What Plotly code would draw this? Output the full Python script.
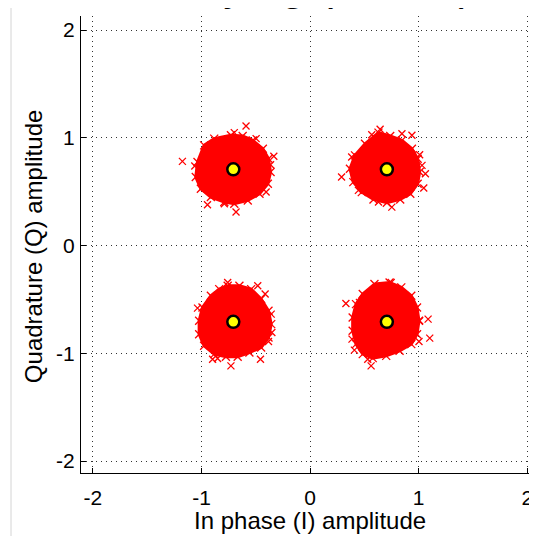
import plotly.graph_objects as go

# Ideal QPSK constellation points
ideal_i = [-0.7071, 0.7071, -0.7071, 0.7071]
ideal_q = [0.7071, 0.7071, -0.7071, -0.7071]

# Dense received-sample clouds: outlines
cloud_tl_i = [-0.729, -0.621, -0.528, -0.435, -0.383, -0.364, -0.389, -0.466, -0.574, -0.698, -0.790, -0.914, -1.006, -1.053, -1.037, -0.976, -0.883]
cloud_tl_q = [1.023, 1.017, 0.976, 0.899, 0.806, 0.682, 0.574, 0.481, 0.419, 0.388, 0.404, 0.450, 0.527, 0.636, 0.775, 0.930, 0.992]

cloud_tr_i = [0.630, 0.738, 0.846, 0.938, 0.991, 1.009, 0.991, 0.923, 0.830, 0.707, 0.584, 0.476, 0.398, 0.367, 0.414, 0.506]
cloud_tr_q = [1.048, 1.017, 0.976, 0.899, 0.806, 0.682, 0.574, 0.481, 0.428, 0.397, 0.428, 0.496, 0.589, 0.713, 0.837, 0.945]

cloud_bl_i = [-0.759, -0.651, -0.543, -0.451, -0.383, -0.358, -0.383, -0.451, -0.559, -0.667, -0.775, -0.883, -0.976, -1.022, -1.022, -0.991, -0.914, -0.837]
cloud_bl_q = [-0.373, -0.373, -0.404, -0.496, -0.605, -0.729, -0.853, -0.945, -0.992, -1.032, -1.032, -1.007, -0.930, -0.822, -0.698, -0.574, -0.466, -0.404]

cloud_br_i = [0.593, 0.732, 0.840, 0.932, 0.985, 1.003, 0.985, 0.932, 0.824, 0.701, 0.577, 0.485, 0.423, 0.392, 0.392, 0.423, 0.485]
cloud_br_q = [-0.357, -0.342, -0.388, -0.466, -0.574, -0.698, -0.822, -0.914, -0.976, -1.023, -1.044, -1.007, -0.914, -0.791, -0.667, -0.543, -0.450]

# Stray received samples (outliers)
stray_tl_i = [-0.590, -1.176, -1.062, -0.334, -0.364, -0.945, -0.682, -1.006, -0.698, -0.497, -0.405, -0.790]
stray_tl_q = [1.109, 0.781, 0.738, 0.828, 0.750, 0.379, 0.311, 0.589, 1.048, 0.992, 0.497, 0.388]

stray_tr_i = [0.645, 0.568, 0.846, 0.938, 0.290, 0.383, 0.445, 1.062, 1.047, 0.753, 0.630, 1.009, 1.031]
stray_tr_q = [1.079, 1.029, 1.038, 1.023, 0.636, 0.822, 0.512, 0.667, 0.534, 0.357, 0.404, 0.843, 0.744]

stray_bl_i = [-0.759, -0.482, -0.414, -1.037, -0.352, -0.383, -0.457, -0.729, -0.898, -0.852, -0.358]
stray_bl_q = [-0.342, -0.373, -0.450, -0.580, -0.806, -0.890, -1.054, -1.116, -1.054, -1.047, -0.636]

stray_br_i = [0.330, 0.454, 1.087, 1.102, 1.003, 0.408, 0.386, 0.562, 0.531, 1.009, 0.747]
stray_br_q = [-0.537, -0.527, -0.682, -0.859, -0.890, -0.970, -0.868, -1.116, -1.054, -0.698, -0.343]

tick_vals = [-2, -1, 0, 1, 2]
tick_text = ["-2", "-1", "0", "1", "2"]

RED = "#ff0000"
FONT = "Liberation Sans, Arial, sans-serif"
fig = go.Figure()

clouds = [(cloud_tl_i, cloud_tl_q), (cloud_tr_i, cloud_tr_q),
          (cloud_bl_i, cloud_bl_q), (cloud_br_i, cloud_br_q)]
for ci, cq in clouds:
    fig.add_trace(go.Scatter(x=ci + ci[:1], y=cq + cq[:1], mode="lines",
                             fill="toself", fillcolor=RED,
                             line=dict(color=RED, width=3),
                             hoverinfo="skip", showlegend=False))
    fig.add_trace(go.Scatter(x=ci, y=cq, mode="markers",
                             marker=dict(symbol="x-thin", size=8,
                                         line=dict(color=RED, width=1.3)),
                             showlegend=False))

strays = [(stray_tl_i, stray_tl_q), (stray_tr_i, stray_tr_q),
          (stray_bl_i, stray_bl_q), (stray_br_i, stray_br_q)]
for si, sq in strays:
    fig.add_trace(go.Scatter(x=si, y=sq, mode="markers",
                             marker=dict(symbol="x-thin", size=7,
                                         line=dict(color=RED, width=1.3)),
                             showlegend=False))

fig.add_trace(go.Scatter(x=ideal_i, y=ideal_q, mode="markers",
                         marker=dict(symbol="circle", size=12, color="#ffff00",
                                     line=dict(color="black", width=2.5)),
                         showlegend=False))

axis_common = dict(
    tickvals=tick_vals, ticktext=tick_text,
    ticks="inside", ticklen=5, tickcolor="black",
    showline=True, linecolor="black", linewidth=1.3,
    showgrid=True, gridcolor="#333333", gridwidth=1, griddash="1px,4px",
    zeroline=False, automargin=False,
    tickfont=dict(family=FONT, size=21, color="black"),
    fixedrange=True,
)

fig.update_layout(
    width=529, height=528,
    margin=dict(l=73, r=0, t=8, b=63),
    paper_bgcolor="white", plot_bgcolor="white",
    xaxis=dict(range=[-2.11, 2.09], ticklabelstandoff=6, **axis_common),
    yaxis=dict(range=[-2.11, 2.13], ticklabelstandoff=1, **axis_common),
    annotations=[
        dict(text="In phase (I) amplitude", xref="paper", yref="paper",
             x=0.503, y=-0.103, xanchor="center", yanchor="middle", showarrow=False,
             font=dict(family=FONT, size=24, color="black")),
        dict(text="Quadrature (Q) amplitude", xref="paper", yref="paper",
             x=-0.105, y=0.4945, xanchor="center", yanchor="middle", showarrow=False,
             textangle=-90,
             font=dict(family=FONT, size=24, color="black")),
        dict(text="Quadrature phase-shift keying (QPSK)", xref="paper", yref="paper",
             x=0.864, y=1.0, yshift=4, xanchor="right", yanchor="bottom", showarrow=False,
             font=dict(family=FONT, size=45, color="black")),
    ],
    shapes=[
        dict(type="line", xref="paper", yref="paper", x0=-0.1535, x1=-0.1535,
             y0=-0.2, y1=1.1, line=dict(color="#d4d4d4", width=1)),
    ],
)

fig.write_html("out.html")
